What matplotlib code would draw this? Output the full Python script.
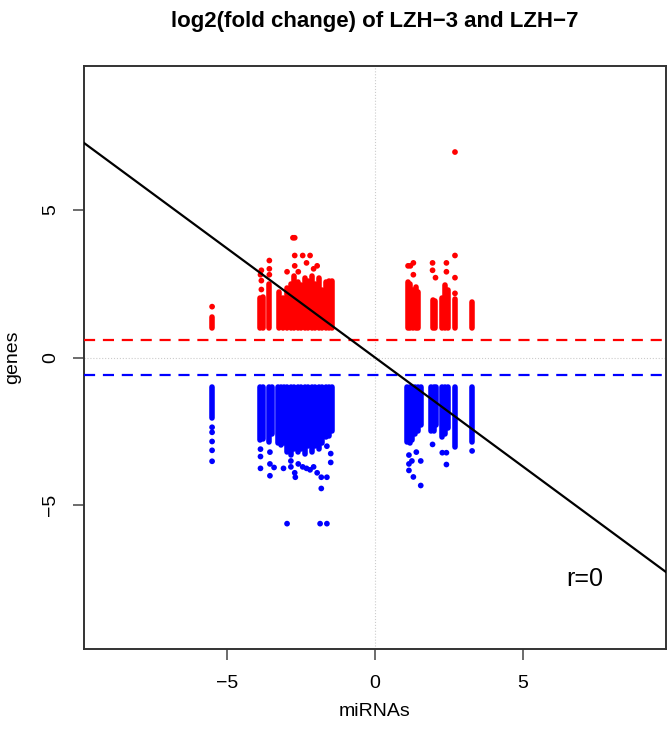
import matplotlib
matplotlib.use("Agg")
import matplotlib.pyplot as plt
import numpy as np

plt.rcParams['font.family'] = ['Liberation Sans', 'DejaVu Sans']

title = "log2(fold change) of LZH\u22123 and LZH\u22127"
xlabel = "miRNAs"
ylabel = "genes"
xticks = [-5, 0, 5]
yticks = [-5, 0, 5]
xtick_labels = ["\u22125", "0", "5"]
ytick_labels = ["\u22125", "0", "5"]

# up-regulated genes: miRNA x value and top of the solid red stack (stack begins at y = 1)
red_col_x = [-5.52, -3.90, -3.78, -3.58, -3.25, -3.12,
             -2.98, -2.86, -2.74, -2.62, -2.50, -2.38, -2.26, -2.14, -2.02, -1.90, -1.78, -1.66, -1.55, -1.45,
             1.12, 1.20, 1.30, 1.40, 1.46, 1.95, 2.03, 2.27, 2.37, 2.47, 2.71, 3.29]
red_col_top = [1.36, 2.0, 2.04, 2.5, 2.2, 2.0,
               2.35, 2.5, 2.75, 2.55, 2.45, 2.7, 2.6, 2.75, 2.5, 2.7, 2.3, 2.55, 2.6, 2.6,
               2.55, 2.5, 2.3, 2.4, 2.2, 1.93, 1.9, 2.0, 2.45, 2.3, 1.98, 1.87]
# down-regulated genes: miRNA x value and bottom of the solid blue stack (stack begins at y = -1)
blue_col_x = [-5.52, -3.90, -3.80, -3.60, -3.50, -3.30, -3.20, -3.10,
              -2.98, -2.86, -2.74, -2.62, -2.50, -2.38, -2.26, -2.14, -2.02, -1.90, -1.78, -1.66, -1.55, -1.45,
              1.08, 1.17, 1.27, 1.37, 1.46, 1.55, 1.90, 2.00, 2.08, 2.27, 2.37, 2.47, 2.71, 3.29]
blue_col_bottom = [-2.06, -2.8, -2.75, -2.86, -2.6, -2.9, -2.97, -2.9,
                   -3.2, -3.3, -3.1, -3.2, -3.1, -3.25, -3.0, -3.2, -3.0, -3.1, -2.9, -2.7, -2.64, -2.5,
                   -2.87, -2.9, -2.8, -2.6, -2.5, -2.3, -2.47, -2.47, -2.3, -2.7, -2.6, -2.4, -3.04, -2.87]
stack_start_up = 1.0
stack_start_down = -1.0

# individual scattered points
red_x = [-5.52, -3.85, -3.85, -3.88, -3.85, -3.58, -3.58, -3.58, -2.78, -2.72,
         -2.98, -2.72, -2.72, -2.60, -2.45, -2.32, -2.20, -2.08, -1.96,
         1.12, 1.20, 1.30, 1.30, 1.95, 1.95, 2.05, 2.42, 2.42, 2.71, 2.71, 2.71, 2.71]
red_y = [1.72, 2.3, 2.6, 2.8, 2.95, 2.8, 3.0, 3.28, 4.05, 4.05,
         2.9, 3.1, 3.45, 2.9, 3.45, 3.2, 3.45, 3.0, 3.1,
         3.1, 3.1, 3.2, 2.8, 3.2, 2.95, 2.7, 3.2, 2.9, 3.45, 2.7, 2.17, 6.95]
blue_x = [-5.52, -5.52, -5.52, -5.52, -5.52, -3.88, -3.88, -3.88, -3.56, -3.56, -3.56,
          -3.42, -3.10, -2.98, -2.85, -2.85, -2.72, -2.70, -2.60, -2.45, -2.32, -2.20,
          -2.08, -1.96, -1.82, -1.82, -1.63, -1.86, -1.63, -1.63, -1.50, -1.50,
          1.15, 1.15, 1.15, 1.25, 1.30, 1.55, 1.55, 1.40, 1.95, 2.28, 2.42, 2.42, 3.29]
blue_y = [-2.36, -2.53, -2.84, -3.14, -3.51, -3.1, -3.35, -3.75, -3.2, -3.6, -4.0,
          -3.72, -3.75, -5.62, -3.5, -3.7, -3.9, -4.05, -3.6, -3.7, -3.75, -3.8,
          -3.7, -3.9, -4.05, -4.43, -4.05, -5.62, -5.62, -3.0, -3.25, -3.55,
          -3.3, -3.6, -3.82, -3.5, -4.04, -4.33, -3.5, -3.2, -2.94, -3.22, -3.22, -3.62, -3.16]

fc_cut = 0.585
fit_slope = -0.736
r_text = "r=0"

fig = plt.figure(figsize=(6.67, 7.37), dpi=100)
ax = fig.add_axes([84/667, 88/737, 582/667, 583/737])
ax.set_xlim(-9.86, 9.86)
ax.set_ylim(-9.86, 9.86)

ax.axvline(0, color='#cccccc', lw=0.8, ls=':')
ax.axhline(0, color='#cccccc', lw=0.8, ls=':')

lw_pts = 4.0
ax.vlines(red_col_x, stack_start_up, red_col_top, colors='red', lw=lw_pts, capstyle='round', zorder=2)
ax.vlines(blue_col_x, blue_col_bottom, stack_start_down, colors='blue', lw=lw_pts, capstyle='round', zorder=2)
ax.scatter(red_x, red_y, s=17, c='red', edgecolors='none', zorder=2)
ax.scatter(blue_x, blue_y, s=17, c='blue', edgecolors='none', zorder=2)

ax.axhline(fc_cut, color='red', lw=1.6, ls=(0, (5, 3.5)), zorder=3)
ax.axhline(-fc_cut, color='blue', lw=1.6, ls=(0, (5, 3.5)), zorder=3)
ax.axline((0, 0), slope=fit_slope, color='black', lw=1.6, zorder=4)

ax.text(7.1, -7.5, r_text, fontsize=18, ha='center', va='center')

ax.set_xticks(xticks)
ax.set_xticklabels(xtick_labels)
ax.set_yticks(yticks)
ax.set_yticklabels(ytick_labels, rotation=90, va='center')
ax.tick_params(axis='both', direction='out', length=8, width=1.1, color='#444444', labelsize=14)
ax.tick_params(axis='x', pad=11)
ax.tick_params(axis='y', pad=10)
for s in ax.spines.values():
    s.set_linewidth(1.4)
    s.set_color('#333333')

fig.text(375/667, 1 - 22/737, title, fontsize=16, fontweight='bold', ha='center', va='center')
fig.text(375/667, 1 - 712/737, xlabel, fontsize=14, ha='center', va='center')
fig.text(13/667, 1 - 357/737, ylabel, fontsize=14, ha='center', va='center', rotation=90)

fig.savefig("out.png", dpi=100)
